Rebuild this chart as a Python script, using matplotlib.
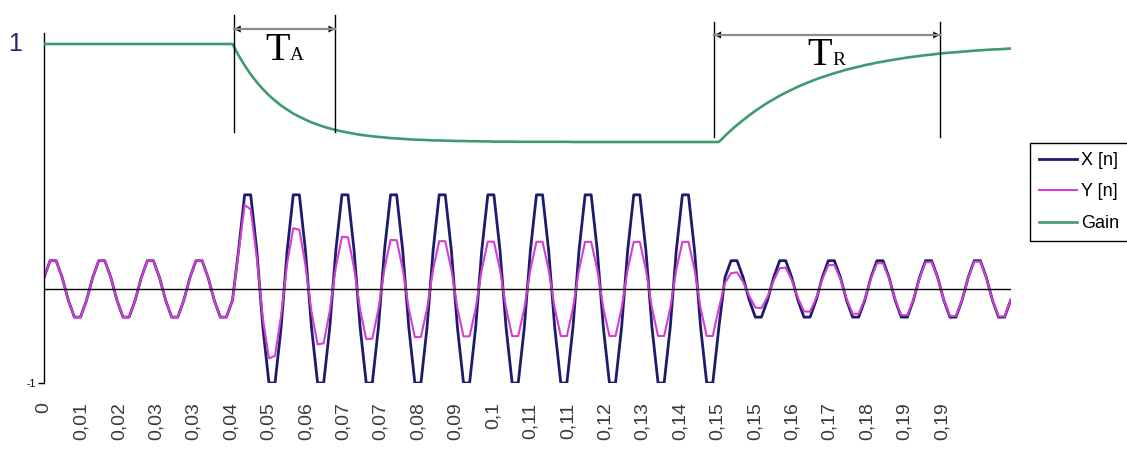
import numpy as np
import matplotlib
matplotlib.use("Agg")
import matplotlib.pyplot as plt
from matplotlib import transforms
from matplotlib.lines import Line2D

plt.rcParams['font.family'] = ['Liberation Sans', 'DejaVu Sans']

# --- data (one row = one period of 8 samples) ---
x_n = [
    0.12, 0.30, 0.30, 0.12, -0.12, -0.30, -0.30, -0.12,
    0.12, 0.30, 0.30, 0.12, -0.12, -0.30, -0.30, -0.12,
    0.12, 0.30, 0.30, 0.12, -0.12, -0.30, -0.30, -0.12,
    0.12, 0.30, 0.30, 0.12, -0.12, -0.30, -0.30, -0.12,
    0.41, 1.00, 1.00, 0.41, -0.41, -1.00, -1.00, -0.41,
    0.41, 1.00, 1.00, 0.41, -0.41, -1.00, -1.00, -0.41,
    0.41, 1.00, 1.00, 0.41, -0.41, -1.00, -1.00, -0.41,
    0.41, 1.00, 1.00, 0.41, -0.41, -1.00, -1.00, -0.41,
    0.41, 1.00, 1.00, 0.41, -0.41, -1.00, -1.00, -0.41,
    0.41, 1.00, 1.00, 0.41, -0.41, -1.00, -1.00, -0.41,
    0.41, 1.00, 1.00, 0.41, -0.41, -1.00, -1.00, -0.41,
    0.41, 1.00, 1.00, 0.41, -0.41, -1.00, -1.00, -0.41,
    0.41, 1.00, 1.00, 0.41, -0.41, -1.00, -1.00, -0.41,
    0.41, 1.00, 1.00, 0.41, -0.41, -1.00, -1.00, -0.41,
    0.12, 0.30, 0.30, 0.12, -0.12, -0.30, -0.30, -0.12,
    0.12, 0.30, 0.30, 0.12, -0.12, -0.30, -0.30, -0.12,
    0.12, 0.30, 0.30, 0.12, -0.12, -0.30, -0.30, -0.12,
    0.12, 0.30, 0.30, 0.12, -0.12, -0.30, -0.30, -0.12,
    0.12, 0.30, 0.30, 0.12, -0.12, -0.30, -0.30, -0.12,
    0.12, 0.30, 0.30, 0.12, -0.12, -0.30, -0.30, -0.12,
]

y_n = [
    0.12, 0.30, 0.30, 0.12, -0.12, -0.30, -0.30, -0.12,
    0.12, 0.30, 0.30, 0.12, -0.12, -0.30, -0.30, -0.12,
    0.12, 0.30, 0.30, 0.12, -0.12, -0.30, -0.30, -0.12,
    0.12, 0.30, 0.30, 0.12, -0.12, -0.30, -0.30, -0.12,
    0.386, 0.891, 0.845, 0.330, -0.316, -0.738, -0.711, -0.281,
    0.273, 0.645, 0.629, 0.252, -0.246, -0.589, -0.578, -0.233,
    0.230, 0.554, 0.548, 0.222, -0.220, -0.533, -0.529, -0.216,
    0.214, 0.520, 0.518, 0.212, -0.211, -0.512, -0.511, -0.209,
    0.208, 0.508, 0.507, 0.207, -0.207, -0.505, -0.504, -0.207,
    0.206, 0.503, 0.502, 0.206, -0.206, -0.502, -0.501, -0.205,
    0.205, 0.501, 0.501, 0.205, -0.205, -0.501, -0.501, -0.205,
    0.205, 0.500, 0.500, 0.205, -0.205, -0.500, -0.500, -0.205,
    0.205, 0.500, 0.500, 0.205, -0.205, -0.500, -0.500, -0.205,
    0.205, 0.500, 0.500, 0.205, -0.205, -0.500, -0.500, -0.205,
    0.064, 0.168, 0.176, 0.073, -0.076, -0.198, -0.204, -0.084,
    0.086, 0.221, 0.226, 0.092, -0.094, -0.239, -0.242, -0.098,
    0.100, 0.252, 0.255, 0.103, -0.104, -0.263, -0.265, -0.107,
    0.108, 0.272, 0.273, 0.110, -0.111, -0.278, -0.279, -0.112,
    0.113, 0.283, 0.284, 0.114, -0.114, -0.287, -0.287, -0.115,
    0.116, 0.290, 0.290, 0.116, -0.117, -0.292, -0.293, -0.117,
]

gain = [
    1.0, 1.0, 1.0, 1.0, 1.0, 1.0, 1.0, 1.0,
    1.0, 1.0, 1.0, 1.0, 1.0, 1.0, 1.0, 1.0,
    1.0, 1.0, 1.0, 1.0, 1.0, 1.0, 1.0, 1.0,
    1.0, 1.0, 1.0, 1.0, 1.0, 1.0, 1.0, 1.0,
    0.942, 0.891, 0.845, 0.805, 0.770, 0.738, 0.711, 0.686,
    0.665, 0.645, 0.629, 0.614, 0.600, 0.589, 0.578, 0.569,
    0.561, 0.554, 0.548, 0.542, 0.537, 0.533, 0.529, 0.526,
    0.523, 0.520, 0.518, 0.516, 0.514, 0.512, 0.511, 0.510,
    0.508, 0.508, 0.507, 0.506, 0.505, 0.505, 0.504, 0.504,
    0.503, 0.503, 0.502, 0.502, 0.502, 0.502, 0.501, 0.501,
    0.501, 0.501, 0.501, 0.501, 0.501, 0.501, 0.501, 0.500,
    0.500, 0.500, 0.500, 0.500, 0.500, 0.500, 0.500, 0.500,
    0.500, 0.500, 0.500, 0.500, 0.500, 0.500, 0.500, 0.500,
    0.500, 0.500, 0.500, 0.500, 0.500, 0.500, 0.500, 0.500,
    0.531, 0.560, 0.587, 0.612, 0.636, 0.659, 0.680, 0.700,
    0.718, 0.736, 0.752, 0.767, 0.782, 0.795, 0.808, 0.820,
    0.831, 0.841, 0.851, 0.860, 0.869, 0.877, 0.884, 0.892,
    0.898, 0.905, 0.910, 0.916, 0.921, 0.926, 0.931, 0.935,
    0.939, 0.943, 0.946, 0.950, 0.953, 0.956, 0.958, 0.961,
    0.963, 0.966, 0.968, 0.970, 0.972, 0.973, 0.975, 0.977,
]

tick_labels = ['0', '0,01', '0,02', '0,03', '0,03', '0,04', '0,05', '0,06',
               '0,07', '0,07', '0,08', '0,09', '0,1', '0,11', '0,11', '0,12',
               '0,13', '0,14', '0,15', '0,15', '0,16', '0,17', '0,18', '0,19',
               '0,19']
tick_step = 0.008

dt = 0.0013                       # sample period
time = np.arange(len(x_n)) * dt

# attack / release markers (time)
t_attack = (0.0406, 0.0623)
t_release = (0.1433, 0.1916)

# --- figure ---
W, H = 1127, 449
fig = plt.figure(figsize=(W / 100, H / 100), dpi=100)
ax = fig.add_axes([44 / W, 1 - 383 / H, 966.7 / W, 350 / H])

line_x, = ax.plot(time, x_n, color='#1c1c6c', lw=2.0)
line_y, = ax.plot(time, y_n, color='#d23fd2', lw=1.5)
ax.axhline(0, color='black', lw=1)
ax.set_xlim(0, time[-1])
ax.set_ylim(-1, 2.72)

for s in ['top', 'right', 'bottom']:
    ax.spines[s].set_visible(False)
ax.spines['left'].set_color('black')
ax.spines['left'].set_linewidth(1)

ax.set_yticks([-1])
ax.set_yticklabels(['-1'], fontsize=7.5)
ax.tick_params(axis='y', length=4, width=1, pad=2)
ax.set_xticks(np.arange(len(tick_labels)) * tick_step)
ax.set_xticklabels(tick_labels, rotation=90, fontsize=14, color='#3a3a3a')
ax.tick_params(axis='x', length=0, pad=14)

# gain on its own (hidden) scale
ax2 = ax.twinx()
line_g, = ax2.plot(time, gain, color='#3f9a6e', lw=1.9)
ax2.set_ylim(-0.7296, 1.0561)
ax2.axis('off')
ax2.text(-0.030, 1.0, '1', fontsize=18, color='#25256f', ha='center', va='center',
         transform=transforms.blended_transform_factory(ax2.transAxes, ax2.transData))

# TA / TR dimension marks
trans = transforms.blended_transform_factory(ax.transData, fig.transFigure)


def span_marker(t0, t1, top_px, bot_px, arrow_px, base_px, sub):
    for t in (t0, t1):
        fig.add_artist(Line2D([t, t], [1 - top_px / H, 1 - bot_px / H],
                              transform=trans, color='black', lw=1))
    ya = 1 - arrow_px / H
    fig.add_artist(Line2D([t0, t1], [ya, ya], transform=trans, color='#8a8a8a', lw=1.6))
    ax.annotate('', xy=(t1, ya), xytext=(t0, ya), xycoords=trans, textcoords=trans,
                annotation_clip=False,
                arrowprops=dict(arrowstyle='<|-|>', color='black', lw=0.1,
                                mutation_scale=12, shrinkA=0, shrinkB=0))
    mid = (t0 + t1) / 2
    yb = 1 - base_px / H
    ax.text(mid, yb, 'T', fontsize=29, family='Liberation Serif', ha='right', va='baseline',
            transform=transforms.offset_copy(trans, fig=fig, x=5, units='dots'), clip_on=False)
    ax.text(mid, yb, sub, fontsize=14, family='Liberation Serif', ha='left', va='baseline',
            transform=transforms.offset_copy(trans, fig=fig, x=5, units='dots'), clip_on=False)


span_marker(t_attack[0], t_attack[1], 15, 132, 29, 60, 'A')
span_marker(t_release[0], t_release[1], 22, 137, 35, 65, 'R')

# legend
leg = fig.legend([line_x, line_y, line_g], ['X [n]', 'Y [n]', 'Gain'],
                 loc='upper left', bbox_to_anchor=(1030 / W, 1 - 143 / H),
                 frameon=True, fancybox=False, edgecolor='black', framealpha=1,
                 fontsize=13, handlelength=2.1, handletextpad=0.25,
                 labelspacing=0.8, borderpad=0.5, borderaxespad=0)
leg.get_frame().set_linewidth(1.0)

fig.savefig('out.png', dpi=100)
